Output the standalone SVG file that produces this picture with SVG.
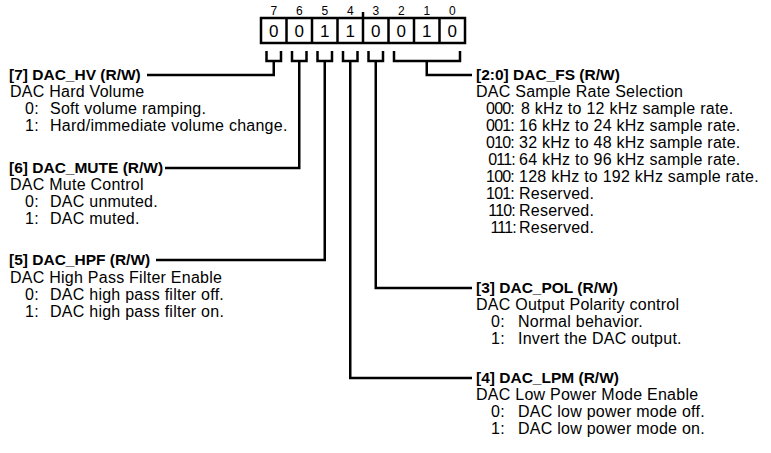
<svg xmlns="http://www.w3.org/2000/svg" width="771" height="453" viewBox="0 0 771 453">
<style>
text{font-family:"Liberation Sans",Arial,sans-serif;fill:#000}
.h{font-size:15.5px;font-weight:bold}
.t{font-size:16px;letter-spacing:0.25px}
.c{font-size:16px;letter-spacing:-0.8px;text-anchor:end}
.bn{font-size:12px;text-anchor:middle}
.bv{font-size:17px;text-anchor:middle}
.ln{fill:none;stroke:#000;stroke-width:2.5}
.box{fill:#fff;stroke:#000;stroke-width:2.5}
</style>
<rect width="771" height="453" fill="#fff"/>
<g id="register">
<rect class="box" x="261" y="18" width="204" height="25"/>
<path class="ln" d="M286.5 18V43M312 18V43M337.5 18V43M363 18V43M388.5 18V43M414 18V43M439.5 18V43M363 12V18"/>
<text class="bn" x="273.75" y="15">7</text>
<text class="bn" x="299.25" y="15">6</text>
<text class="bn" x="324.75" y="15">5</text>
<text class="bn" x="350.25" y="15">4</text>
<text class="bn" x="375.75" y="15">3</text>
<text class="bn" x="401.25" y="15">2</text>
<text class="bn" x="426.75" y="15">1</text>
<text class="bn" x="452.25" y="15">0</text>
<text class="bv" x="273.75" y="37">0</text>
<text class="bv" x="299.25" y="37">0</text>
<text class="bv" x="324.75" y="37">1</text>
<text class="bv" x="350.25" y="37">1</text>
<text class="bv" x="375.75" y="37">0</text>
<text class="bv" x="401.25" y="37">0</text>
<text class="bv" x="426.75" y="37">1</text>
<text class="bv" x="452.25" y="37">0</text>
</g>
<g id="connectors">
<path class="ln" d="M266.5 51V61H281V51M273.75 61V75H147"/>
<path class="ln" d="M292 51V61H306.5V51M299.25 61V168H165"/>
<path class="ln" d="M317.5 51V61H332V51M324.75 61V260H156"/>
<path class="ln" d="M343 51V61H357.5V51M350.25 61V378H472"/>
<path class="ln" d="M368.5 51V61H383V51M375.75 61V288H472"/>
<path class="ln" d="M394 51V61H460V51M426.75 61V75H472"/>
</g>
<g id="f7">
<text class="h" x="9" y="80">[7] DAC_HV (R/W)</text>
<text class="t" x="10" y="97">DAC Hard Volume</text>
<text class="t" x="25" y="114">0:</text><text class="t" x="50" y="114">Soft volume ramping.</text>
<text class="t" x="25" y="131">1:</text><text class="t" x="50" y="131">Hard/immediate volume change.</text>
</g>
<g id="f6">
<text class="h" x="9" y="173">[6] DAC_MUTE (R/W)</text>
<text class="t" x="10" y="190">DAC Mute Control</text>
<text class="t" x="25" y="207">0:</text><text class="t" x="50" y="207">DAC unmuted.</text>
<text class="t" x="25" y="224">1:</text><text class="t" x="50" y="224">DAC muted.</text>
</g>
<g id="f5">
<text class="h" x="9" y="265">[5] DAC_HPF (R/W)</text>
<text class="t" x="10" y="283">DAC High Pass Filter Enable</text>
<text class="t" x="25" y="300">0:</text><text class="t" x="50" y="300">DAC high pass filter off.</text>
<text class="t" x="25" y="317">1:</text><text class="t" x="50" y="317">DAC high pass filter on.</text>
</g>
<g id="f20">
<text class="h" x="476" y="80">[2:0] DAC_FS (R/W)</text>
<text class="t" x="476" y="97">DAC Sample Rate Selection</text>
<text class="c" x="514" y="114">000:</text><text class="t" x="521" y="114">8 kHz to 12 kHz sample rate.</text>
<text class="c" x="514" y="131">001:</text><text class="t" x="519" y="131">16 kHz to 24 kHz sample rate.</text>
<text class="c" x="514" y="148">010:</text><text class="t" x="519" y="148">32 kHz to 48 kHz sample rate.</text>
<text class="c" x="515" y="165">011:</text><text class="t" x="519" y="165">64 kHz to 96 kHz sample rate.</text>
<text class="c" x="514" y="182">100:</text><text class="t" x="519" y="182">128 kHz to 192 kHz sample rate.</text>
<text class="c" x="514" y="199">101:</text><text class="t" x="519" y="199">Reserved.</text>
<text class="c" x="515" y="216">110:</text><text class="t" x="519" y="216">Reserved.</text>
<text class="c" x="516" y="233">111:</text><text class="t" x="519" y="233">Reserved.</text>
</g>
<g id="f3">
<text class="h" x="476" y="293">[3] DAC_POL (R/W)</text>
<text class="t" x="476" y="310">DAC Output Polarity control</text>
<text class="t" x="491" y="327">0:</text><text class="t" x="518" y="327">Normal behavior.</text>
<text class="t" x="491" y="344">1:</text><text class="t" x="518" y="344">Invert the DAC output.</text>
</g>
<g id="f4">
<text class="h" x="476" y="383">[4] DAC_LPM (R/W)</text>
<text class="t" x="476" y="400">DAC Low Power Mode Enable</text>
<text class="t" x="491" y="417">0:</text><text class="t" x="518" y="417">DAC low power mode off.</text>
<text class="t" x="491" y="434">1:</text><text class="t" x="518" y="434">DAC low power mode on.</text>
</g>
</svg>
